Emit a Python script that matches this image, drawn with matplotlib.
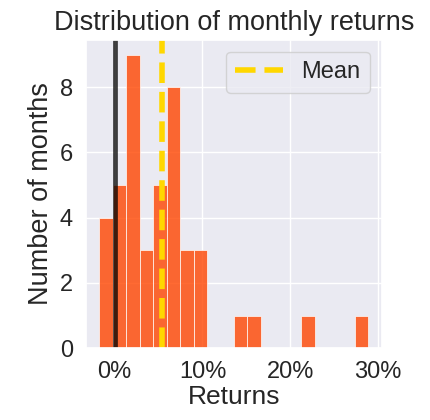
import matplotlib
matplotlib.use("Agg")
import matplotlib.pyplot as plt
import matplotlib.ticker as mtick
import numpy as np
import seaborn as sns

#======= Data =======

# histogram bin edges (fraction), 20 bins from min to max return
bin_lo = -0.0173
bin_hi = 0.289
n_bins = 20
# number of months per bin
counts = [4, 5, 9, 3, 5, 8, 3, 3, 0, 0, 1, 1, 0, 0, 0, 1, 0, 0, 0, 1]
mean_return = 0.0537

#======= Plot =======

sns.set(style="darkgrid")
plt.rcParams['font.family'] = ['Liberation Sans', 'DejaVu Sans']

edges = np.linspace(bin_lo, bin_hi, n_bins + 1)
centers = (edges[:-1] + edges[1:]) / 2

fig = plt.figure(figsize=(4.3, 4.2), dpi=100)
ax = fig.add_axes([0.2, 0.171, 0.688, 0.734])

ax.hist(centers, bins=edges, weights=counts, color='orangered', alpha=0.8, edgecolor='white', linewidth=0.6)
ax.axvline(0, color='black', alpha=0.75, linewidth=3.4)
ax.axvline(mean_return, color='gold', linestyle='--', linewidth=4, label='Mean')

ax.xaxis.set_major_formatter(mtick.PercentFormatter(1.0, decimals=0))
ax.set_xticks([0, 0.1, 0.2, 0.3])
ax.tick_params(labelsize=17)
ax.set_title('Distribution of monthly returns', fontsize=19.5, pad=7)
ax.set_xlabel('Returns', fontsize=19, labelpad=1)
ax.set_ylabel('Number of months', fontsize=19.5)
ax.legend(loc='upper right', fontsize=17)

fig.savefig('out.png', dpi=100)
